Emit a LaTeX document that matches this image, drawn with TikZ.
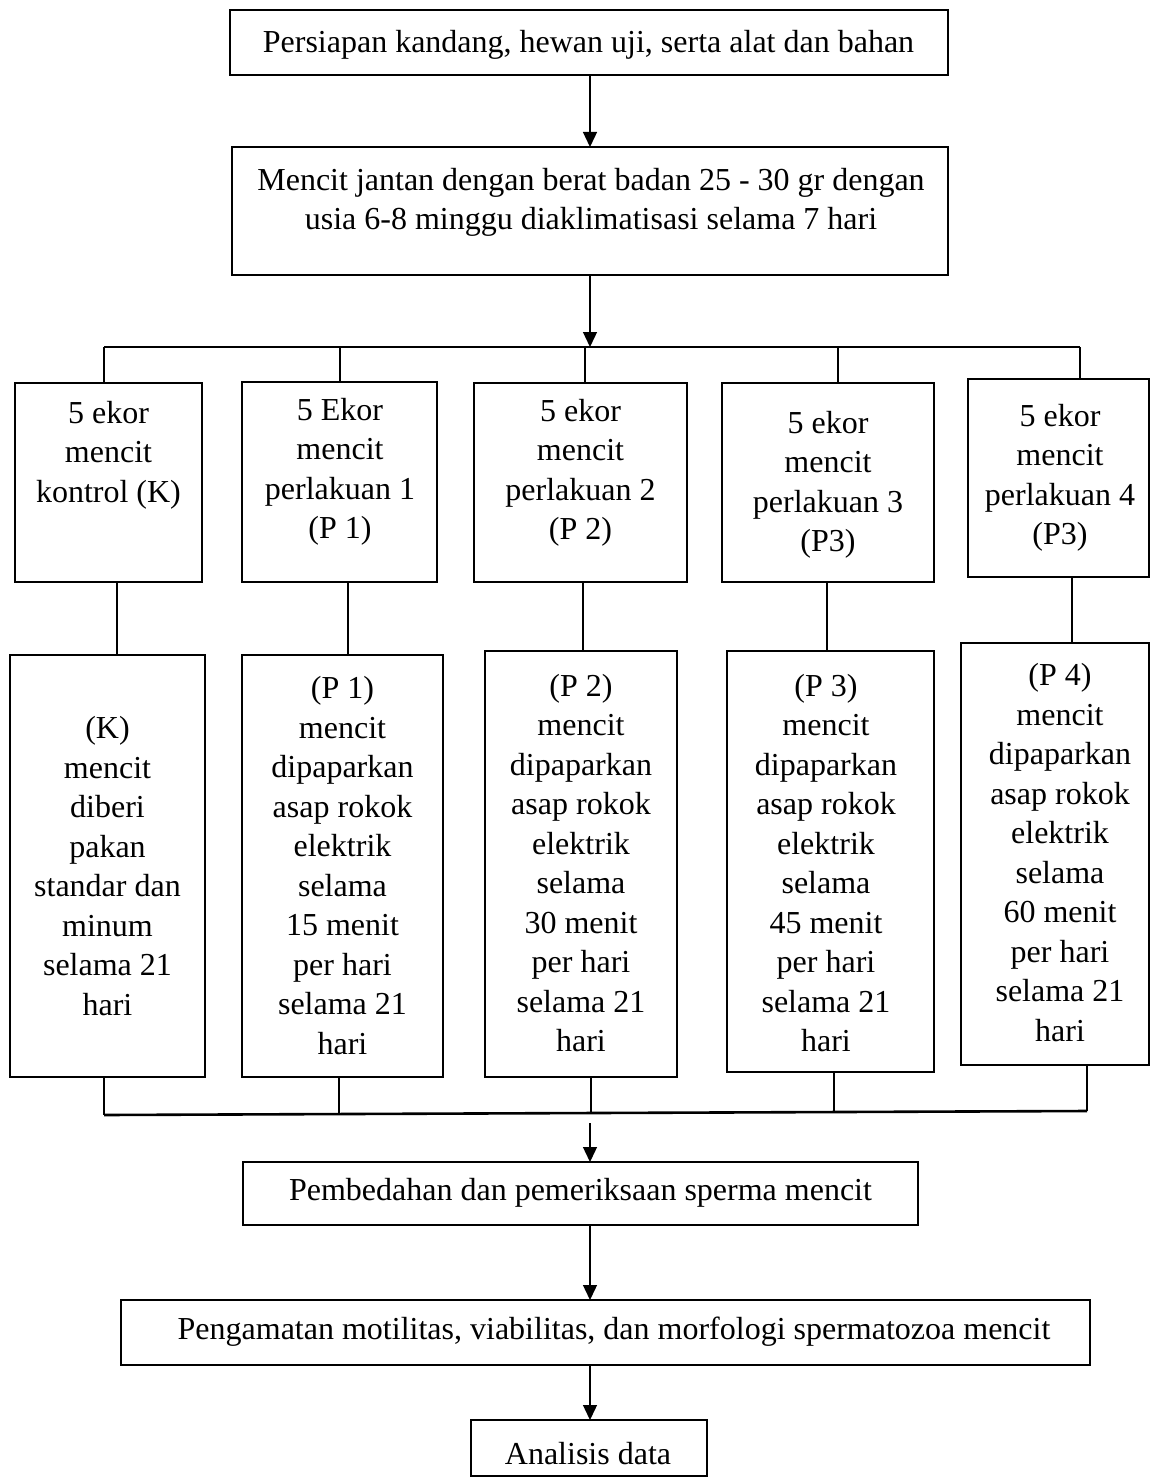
\documentclass[tikz,border=0pt]{standalone}
\usepackage{fontspec}
\setmainfont{Liberation Serif}
\usetikzlibrary{arrows.meta}
\begin{document}
\begin{tikzpicture}[x=1pt,y=-1pt,
  box/.style={draw=black,line width=2.4pt,inner sep=0pt,outer sep=0pt},
  txt/.style={align=center,inner sep=0pt,font=\fontsize{32}{39.5}\selectfont},
  conn/.style={line width=1.2pt},
  bus/.style={line width=2.6pt},
  arr/.style={line width=1.3pt,-{Triangle[width=14pt,length=15pt]}}]
\useasboundingbox (0,0) rectangle (1150,1477);
% top boxes
\node[box,minimum width=718,minimum height=65] (b1) at (589,42.5) {};
\node[txt] (b1t) at (588.5,45) {Persiapan kandang, hewan uji, serta alat dan bahan};
\node[box,minimum width=716,minimum height=128] (b2) at (590,211) {};
\node[txt] (b2t) at (591,202.5) {Mencit jantan dengan berat badan 25 - 30 gr dengan\\usia 6-8 minggu diaklimatisasi selama 7 hari};
% group boxes
\node[box,minimum width=187,minimum height=199] (tK) at (108.5,482.5) {};
\node[txt] (tKt) at (108.5,455) {5 ekor\\mencit\\kontrol (K)};
\node[box,minimum width=195,minimum height=200] (t1) at (339.5,482) {};
\node[txt] (t1t) at (340,472) {5 Ekor\\mencit\\perlakuan 1\\(P 1)};
\node[box,minimum width=213,minimum height=199] (t2) at (580.5,482.5) {};
\node[txt] (t2t) at (580.5,473) {5 ekor\\mencit\\perlakuan 2\\(P 2)};
\node[box,minimum width=212,minimum height=199] (t3) at (828,482.5) {};
\node[txt] (t3t) at (828,485) {5 ekor\\mencit\\perlakuan 3\\(P3)};
\node[box,minimum width=181,minimum height=198] (t4) at (1058.5,478) {};
\node[txt] (t4t) at (1060,478) {5 ekor\\mencit\\perlakuan 4\\(P3)};
% treatment boxes
\node[box,minimum width=195,minimum height=422] (bK) at (107.5,866) {};
\node[txt] (bKt) at (107.5,866) {(K)\\mencit\\diberi\\pakan\\standar dan\\minum\\selama 21\\hari};
\node[box,minimum width=201,minimum height=422] (bP1) at (342.5,866) {};
\node[txt] (bP1t) at (342.5,865.5) {(P 1)\\mencit\\dipaparkan\\asap rokok\\elektrik\\selama\\15 menit\\per hari\\selama 21\\hari};
\node[box,minimum width=192,minimum height=426] (bP2) at (581,864) {};
\node[txt] (bP2t) at (581,863) {(P 2)\\mencit\\dipaparkan\\asap rokok\\elektrik\\selama\\30 menit\\per hari\\selama 21\\hari};
\node[box,minimum width=207,minimum height=421] (bP3) at (830.5,861.5) {};
\node[txt] (bP3t) at (826,863) {(P 3)\\mencit\\dipaparkan\\asap rokok\\elektrik\\selama\\45 menit\\per hari\\selama 21\\hari};
\node[box,minimum width=188,minimum height=422] (bP4) at (1055,854) {};
\node[txt] (bP4t) at (1060,852.5) {(P 4)\\mencit\\dipaparkan\\asap rokok\\elektrik\\selama\\60 menit\\per hari\\selama 21\\hari};
% lower boxes
\node[box,minimum width=675,minimum height=63] (c1) at (580.5,1193.5) {};
\node[txt] (c1t) at (580.5,1193) {Pembedahan dan pemeriksaan sperma mencit};
\node[box,minimum width=969,minimum height=65] (c2) at (605.5,1332.5) {};
\node[txt] (c2t) at (614,1332) {Pengamatan motilitas, viabilitas, dan morfologi spermatozoa mencit};
\node[box,minimum width=236,minimum height=56] (c3) at (589,1448) {};
\node[txt] (c3t) at (588,1454) {Analisis data};
% connectors top
\draw[arr] (b1.south -| 590,0) -- (b2.north -| 590,0);
\coordinate (busL) at (104,347);
\coordinate (busR) at (1080,347);
\coordinate (busM) at (590,347);
\draw[arr] (b2.south -| 590,0) -- (busM);
\draw[bus] (busL) -- (busR);
\draw[conn] (busL) -- (tK.north -| busL);
\draw[conn] (340,347) -- (t1.north -| 340,0);
\draw[conn] (585,347) -- (t2.north -| 585,0);
\draw[conn] (838,347) -- (t3.north -| 838,0);
\draw[conn] (busR) -- (t4.north -| busR);
% top to bottom
\draw[conn] (tK.south -| 117,0) -- (bK.north -| 117,0);
\draw[conn] (t1.south -| 348,0) -- (bP1.north -| 348,0);
\draw[conn] (t2.south -| 583,0) -- (bP2.north -| 583,0);
\draw[conn] (t3.south -| 827,0) -- (bP3.north -| 827,0);
\draw[conn] (t4.south -| 1072,0) -- (bP4.north -| 1072,0);
% bottom bus
\coordinate (dL) at (104,1115);
\coordinate (dR) at (1087,1111);
\draw[bus] (dL) -- (dR);
\draw[conn] (bK.south -| dL) -- (dL);
\draw[conn] (bP1.south -| 339,0) -- (339,1114);
\draw[conn] (bP2.south -| 591,0) -- (591,1113);
\draw[conn] (bP3.south -| 834,0) -- (834,1112);
\draw[conn] (bP4.south -| dR) -- (dR);
\coordinate (aS) at (590,1123);
\draw[arr] (aS) -- (c1.north -| aS);
\draw[arr] (c1.south -| 590,0) -- (c2.north -| 590,0);
\draw[arr] (c2.south -| 590,0) -- (c3.north -| 590,0);
\end{tikzpicture}
\end{document}
